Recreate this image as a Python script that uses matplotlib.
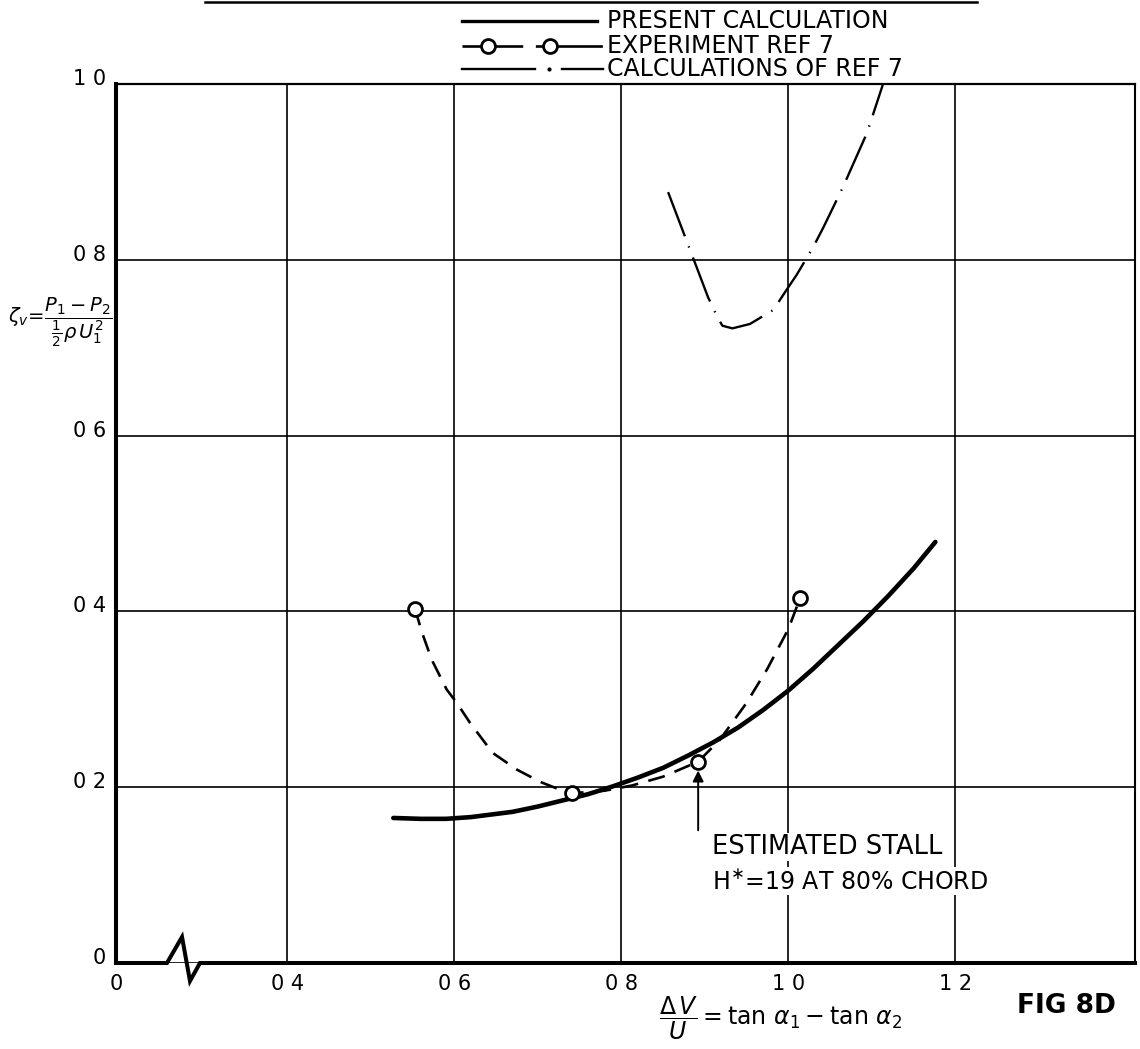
import matplotlib.pyplot as plt
from matplotlib.lines import Line2D
from matplotlib.transforms import offset_copy

plt.rcParams['font.family'] = 'DejaVu Sans'
plt.rcParams['mathtext.fontset'] = 'dejavusans'

# present calculation (solid curve)
present_x = [0.527, 0.56, 0.59, 0.62, 0.645, 0.67, 0.70, 0.73, 0.76, 0.79, 0.82, 0.85,
             0.88, 0.91, 0.94, 0.97, 1.00, 1.03, 1.06, 1.09, 1.12, 1.15, 1.176]
present_y = [0.165, 0.164, 0.164, 0.166, 0.169, 0.172, 0.178, 0.185, 0.192, 0.201, 0.211, 0.222,
             0.236, 0.251, 0.268, 0.288, 0.310, 0.335, 0.362, 0.389, 0.418, 0.449, 0.479]

# experiment, ref 7 (measured points)
exp_x = [0.553, 0.741, 0.892, 1.014]
exp_y = [0.403, 0.193, 0.229, 0.415]

# faired dashed curve through the experiment
exp_curve_x = [0.553, 0.561, 0.573, 0.591, 0.603, 0.619, 0.646, 0.675, 0.703, 0.727,
               0.741, 0.78, 0.813, 0.85, 0.892, 0.918, 0.95, 0.975, 1.0, 1.014]
exp_curve_y = [0.403, 0.377, 0.345, 0.311, 0.296, 0.273, 0.239, 0.220, 0.206, 0.197,
               0.193, 0.196, 0.202, 0.212, 0.229, 0.254, 0.296, 0.335, 0.38, 0.415]

# calculations of ref 7
ref7_x = [0.856, 0.880, 0.904, 0.915, 0.921, 0.933, 0.954, 0.982, 0.998, 1.010,
          1.030, 1.042, 1.065, 1.094, 1.113]
ref7_y = [0.877, 0.817, 0.757, 0.735, 0.725, 0.722, 0.727, 0.743, 0.766, 0.783,
          0.815, 0.837, 0.882, 0.944, 0.999]

x_lo, x_hi = 0.195, 1.415
x_ticks = [x_lo, 0.4, 0.6, 0.8, 1.0, 1.2]
x_labels = ['0', '0 4', '0 6', '0 8', '1 0', '1 2']
y_ticks = [0.0, 0.2, 0.4, 0.6, 0.8, 1.0]
y_labels = ['0', '0 2', '0 4', '0 6', '0 8', '1 0']

W, H = 1140, 1049
fig = plt.figure(figsize=(W / 100, H / 100), dpi=100)
ax = fig.add_axes([116 / W, 1 - 963 / H, 1019 / W, 879 / H])


def fx(px):
    return px / W


def fy(py):
    return 1 - py / H


ax.set_xlim(x_lo, x_hi)
ax.set_ylim(0, 1.0)
ax.set_xticks(x_ticks)
ax.set_yticks(y_ticks)
ax.set_xticklabels([])
ax.set_yticklabels([])
ax.tick_params(length=0)
ax.set_axisbelow(True)
ax.grid(True, color='black', lw=1.2)

ax.spines['left'].set_linewidth(2.9)
ax.spines['top'].set_linewidth(1.6)
ax.spines['right'].set_linewidth(1.5)
ax.spines['bottom'].set_visible(False)

# bottom axis with the break mark near the origin
ax.add_line(Line2D([0, 0.050, 0.0648, 0.0726, 0.0824, 1],
                   [0, 0, 0.0296, -0.0205, 0, 0],
                   transform=ax.transAxes, color='black', lw=2.9,
                   clip_on=False, solid_joinstyle='miter'))

# tick labels
ytr = offset_copy(ax.get_yaxis_transform(), fig=fig, x=-10, y=5, units='dots')
for v, lab in zip(y_ticks, y_labels):
    ax.text(0, v, lab, transform=ytr, ha='right', va='center', fontsize=15)
xtr = offset_copy(ax.get_xaxis_transform(), fig=fig, y=-21, units='dots')
for v, lab in zip(x_ticks, x_labels):
    ax.text(v, 0, lab, transform=xtr, ha='center', va='center', fontsize=15)

# curves
ax.plot(present_x, present_y, color='black', lw=3.3, solid_capstyle='round',
        solid_joinstyle='round', zorder=4)
ax.plot(exp_curve_x, exp_curve_y, color='black', lw=1.9, linestyle=(0, (6.5, 4.0)), zorder=3)
ax.plot(exp_x, exp_y, 'o', color='black', mfc='white', mew=2.0, ms=10, zorder=5)
ax.plot(ref7_x, ref7_y, color='black', lw=1.7, linestyle=(0, (20, 4.5, 0.6, 4.5)), zorder=3)

# stall estimate
ax.annotate('', xy=(exp_x[2], exp_y[2] - 0.01), xytext=(exp_x[2], 0.151),
            arrowprops=dict(arrowstyle='-|>', color='black', lw=1.4,
                            mutation_scale=16, shrinkA=0, shrinkB=0), zorder=4)
box = dict(facecolor='white', edgecolor='none', pad=1)
ax.text(0.909, 0.132, 'ESTIMATED STALL', fontsize=18.5, ha='left', va='center',
        bbox=box, zorder=3)
ax.text(0.909, 0.093, r'H$^{\ast}$=19 AT 80% CHORD', fontsize=17, ha='left', va='center',
        bbox=box, zorder=3)

# axis titles
fig.text(fx(60), fy(322), r'$\zeta_v\!=\!\dfrac{P_1 - P_2}{\frac{1}{2}\rho\,U_1^2}$',
         fontsize=14, ha='center', va='center')
fig.text(fx(781), fy(1018), r'$\dfrac{\Delta\, V}{U} = \tan\,\alpha_1 - \tan\,\alpha_2$',
         fontsize=17, ha='center', va='center')
fig.text(fx(1017), fy(1006), 'FIG 8D', fontsize=19, fontweight='bold', ha='left', va='center')

# key at the top
fig.add_artist(Line2D([fx(205), fx(977)], [fy(2), fy(2)], color='black', lw=1.8))
rows = [21, 46, 69]
fig.add_artist(Line2D([fx(462), fx(597)], [fy(rows[0])] * 2, color='black', lw=2.4))
fig.add_artist(Line2D([fx(462), fx(603)], [fy(rows[1])] * 2, color='black', lw=1.9,
                      linestyle=(0, (23, 4.8, 25.4, 4.3, 8.6, 20))))
fig.add_artist(Line2D([fx(488), fx(550)], [fy(rows[1])] * 2, ls='none', marker='o',
                      color='black', mfc='white', mew=2.0, ms=10))
fig.add_artist(Line2D([fx(462), fx(535)], [fy(rows[2])] * 2, color='black', lw=1.7))
fig.add_artist(Line2D([fx(549)], [fy(rows[2])], ls='none', marker='.', color='black', ms=4))
fig.add_artist(Line2D([fx(562), fx(603)], [fy(rows[2])] * 2, color='black', lw=1.7))
for r, lab in zip(rows, ['PRESENT CALCULATION', 'EXPERIMENT REF 7', 'CALCULATIONS OF REF 7']):
    fig.text(fx(607), fy(r), lab, fontsize=17, ha='left', va='center')

fig.savefig('out.png', dpi=100, facecolor='white')
